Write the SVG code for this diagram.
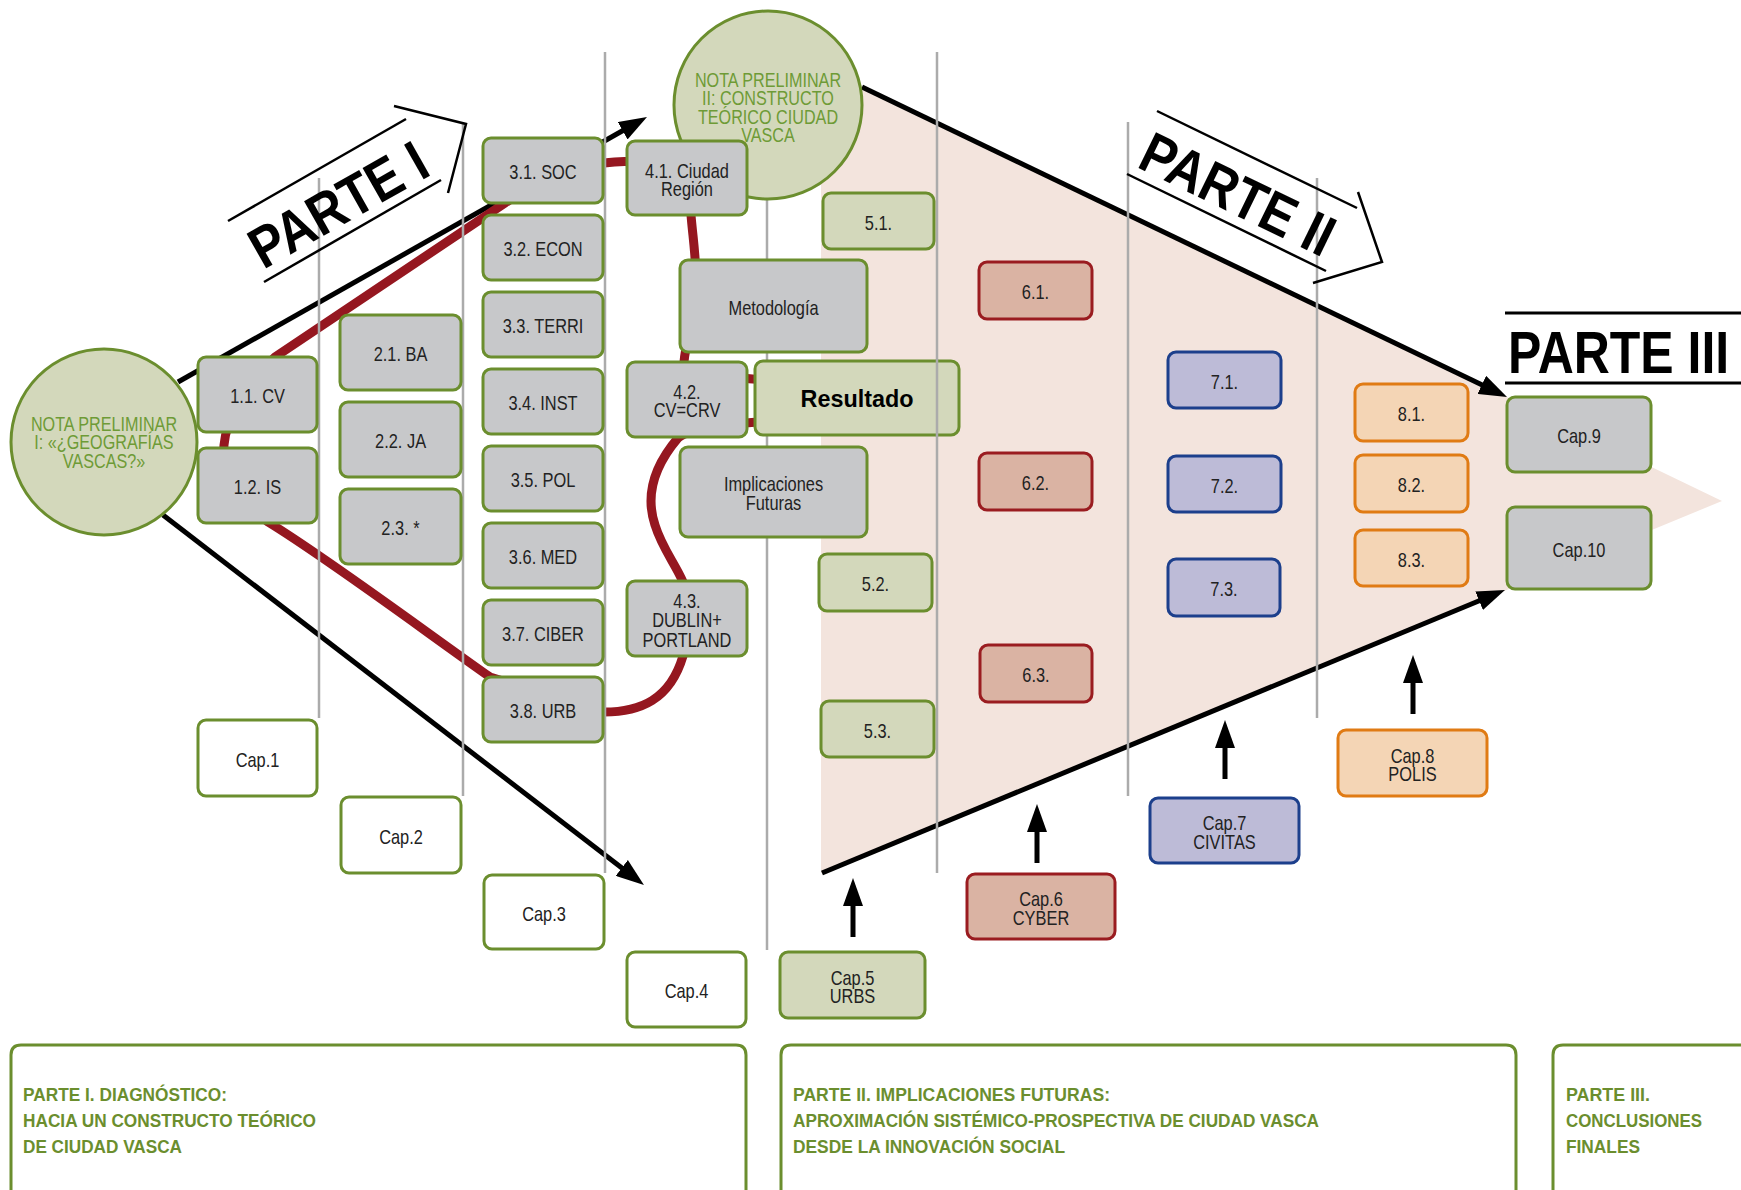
<svg xmlns="http://www.w3.org/2000/svg" width="1741" height="1190" viewBox="0 0 1741 1190">
<defs>
<marker id="ah" viewBox="0 0 28 20" markerWidth="28" markerHeight="20" refX="8" refY="10" orient="auto" markerUnits="userSpaceOnUse"><path d="M0,0 L28,10 L0,20 Z" fill="#000"/></marker>
<style>
.node rect{stroke-width:3}
.gy rect{fill:#C7C8CA;stroke:#6B8E2E}
.gn rect{fill:#D3D8BB;stroke:#6B8E2E}
.wh rect{fill:#FFFFFF;stroke:#6B8E2E}
.rd rect{fill:#DAB3A3;stroke:#9A1C20}
.bl rect{fill:#BDBBD7;stroke:#1C3F8C}
.or rect{fill:#F4D5B5;stroke:#E07B14}
.node text{font-family:"Liberation Sans",Arial,sans-serif;font-size:20px;fill:#222;text-anchor:middle;transform-box:fill-box;transform-origin:center;transform:scaleX(0.82)}
.circ circle{fill:#D3D8BB;stroke:#6B8E2E;stroke-width:3}
.circ text{font-family:"Liberation Sans",Arial,sans-serif;font-size:19.5px;fill:#6E9B36;text-anchor:middle;transform-box:fill-box;transform-origin:center;transform:scaleX(0.83)}
.node text.res{font-weight:bold;font-size:24px;fill:#000;transform:none}
.vl{stroke:#ABABAB;stroke-width:2.5}
.bk{stroke:#000;stroke-width:5;fill:none}
.loop{stroke:#951720;stroke-width:9;fill:none;stroke-linecap:round}
.ttl{font-family:"Liberation Sans",Arial,sans-serif;font-weight:bold;font-size:58px;fill:#000;text-anchor:middle}
.deco{stroke:#000;stroke-width:2.5;fill:none}
.pan{fill:none;stroke:#6B8E2E;stroke-width:3}
.pt{font-family:"Liberation Sans",Arial,sans-serif;font-weight:bold;font-size:18px;fill:#6B8E2E}
</style>
</defs>
<rect width="1741" height="1190" fill="#FFFFFF"/>
<polygon id="funnel" points="821,66 1722,501 821,873" fill="#F3E4DD"/>

<g id="connectors">
<line class="bk" x1="178" y1="382" x2="629.6" y2="126.8" marker-end="url(#ah)"/>
<line class="bk" x1="163" y1="515" x2="628.1" y2="872.8" marker-end="url(#ah)"/>
<line class="bk" x1="862" y1="87" x2="1489" y2="388.3" marker-end="url(#ah)"/>
<line class="bk" x1="822" y1="873" x2="1486.5" y2="597.7" marker-end="url(#ah)"/>
<line class="bk" x1="853" y1="937" x2="853" y2="898" marker-end="url(#ah)"/>
<line class="bk" x1="1037" y1="863" x2="1037" y2="824" marker-end="url(#ah)"/>
<line class="bk" x1="1225" y1="779" x2="1225" y2="740" marker-end="url(#ah)"/>
<line class="bk" x1="1413" y1="714" x2="1413" y2="675" marker-end="url(#ah)"/>
<path class="loop" d="M604,163 C645,157 688,168 691,215 C693,240 697,262 696,292 C695,322 686,338 684,362 C690,374 730,378 770,380 C800,382 800,418 770,421 C730,424 690,428 678,438 C655,465 645,495 655,525 C662,548 676,565 683,582 L683,656 C670,700 640,712 604,712 L490,677 C430,635 330,560 268,522 C240,500 222,472 224,445 C226,420 245,385 275,357 L505,203 C540,180 570,165 604,163"/>
</g>

<g id="dividers">
<line class="vl" x1="319" y1="178" x2="319" y2="718"/>
<line class="vl" x1="463" y1="123" x2="463" y2="796"/>
<line class="vl" x1="605" y1="52" x2="605" y2="873"/>
<line class="vl" x1="767" y1="199" x2="767" y2="950"/>
<line class="vl" x1="937" y1="52" x2="937" y2="873"/>
<line class="vl" x1="1128" y1="122" x2="1128" y2="796"/>
<line class="vl" x1="1317" y1="178" x2="1317" y2="718"/>
</g>

<g id="np1" class="circ"><circle cx="104" cy="442" r="93"/><text x="104" y="431">NOTA PRELIMINAR</text><text x="104" y="449.5">I: «¿GEOGRAFÍAS</text><text x="104" y="468">VASCAS?»</text></g>
<g id="np2" class="circ"><circle cx="768" cy="105" r="94"/><text x="768" y="87">NOTA PRELIMINAR</text><text x="768" y="105.3">II: CONSTRUCTO</text><text x="768" y="123.6">TEÓRICO CIUDAD</text><text x="768" y="142">VASCA</text></g>

<g id="n11" class="node gy"><rect x="198" y="357" width="119" height="75" rx="8"/><text x="257.5" y="403.5">1.1. CV</text></g>
<g id="n12" class="node gy"><rect x="198" y="448" width="119" height="75" rx="8"/><text x="257.5" y="494.5">1.2. IS</text></g>
<g id="n21" class="node gy"><rect x="340" y="315" width="121" height="75" rx="8"/><text x="400.5" y="361.5">2.1. BA</text></g>
<g id="n22" class="node gy"><rect x="340" y="402" width="121" height="75" rx="8"/><text x="400.5" y="448.5">2.2. JA</text></g>
<g id="n23" class="node gy"><rect x="340" y="489" width="121" height="75" rx="8"/><text x="400.5" y="535.5">2.3. *</text></g>
<g id="n31" class="node gy"><rect x="483" y="138" width="120" height="65" rx="8"/><text x="543" y="179.5">3.1. SOC</text></g>
<g id="n32" class="node gy"><rect x="483" y="215" width="120" height="65" rx="8"/><text x="543" y="256.5">3.2. ECON</text></g>
<g id="n33" class="node gy"><rect x="483" y="292" width="120" height="65" rx="8"/><text x="543" y="333.5">3.3. TERRI</text></g>
<g id="n34" class="node gy"><rect x="483" y="369" width="120" height="65" rx="8"/><text x="543" y="410.5">3.4. INST</text></g>
<g id="n35" class="node gy"><rect x="483" y="446" width="120" height="65" rx="8"/><text x="543" y="487.5">3.5. POL</text></g>
<g id="n36" class="node gy"><rect x="483" y="523" width="120" height="65" rx="8"/><text x="543" y="564.5">3.6. MED</text></g>
<g id="n37" class="node gy"><rect x="483" y="600" width="120" height="65" rx="8"/><text x="543" y="641.5">3.7. CIBER</text></g>
<g id="n38" class="node gy"><rect x="483" y="677" width="120" height="65" rx="8"/><text x="543" y="718.5">3.8. URB</text></g>
<g id="n41" class="node gy"><rect x="627" y="141" width="120" height="74" rx="8"/><text x="687" y="178">4.1. Ciudad</text><text x="687" y="196.5">Región</text></g>
<g id="nmet" class="node gy"><rect x="680" y="260" width="187" height="92" rx="8"/><text x="773.5" y="315">Metodología</text></g>
<g id="n42" class="node gy"><rect x="627" y="362" width="120" height="75" rx="8"/><text x="687" y="399">4.2.</text><text x="687" y="417.5">CV=CRV</text></g>
<g id="nres" class="node gn"><rect x="755" y="361" width="204" height="74" rx="8"/><text class="res" x="857" y="407" textLength="113" lengthAdjust="spacingAndGlyphs">Resultado</text></g>
<g id="nimp" class="node gy"><rect x="680" y="447" width="187" height="90" rx="8"/><text x="773.5" y="491.5">Implicaciones</text><text x="773.5" y="510">Futuras</text></g>
<g id="n43" class="node gy"><rect x="627" y="581" width="120" height="75" rx="8"/><text x="687" y="608">4.3.</text><text x="687" y="627.5">DUBLIN+</text><text x="687" y="647">PORTLAND</text></g>
<line class="vl" x1="937" y1="359" x2="937" y2="437"/>

<g id="n51" class="node gn"><rect x="823" y="193" width="111" height="56" rx="8"/><text x="878.5" y="230">5.1.</text></g>
<g id="n52" class="node gn"><rect x="819" y="554" width="113" height="57" rx="8"/><text x="875.5" y="591.5">5.2.</text></g>
<g id="n53" class="node gn"><rect x="821" y="701" width="113" height="56" rx="8"/><text x="877.5" y="738">5.3.</text></g>
<g id="n61" class="node rd"><rect x="979" y="262" width="113" height="57" rx="8"/><text x="1035.5" y="299.5">6.1.</text></g>
<g id="n62" class="node rd"><rect x="979" y="453" width="113" height="57" rx="8"/><text x="1035.5" y="490.5">6.2.</text></g>
<g id="n63" class="node rd"><rect x="980" y="645" width="112" height="57" rx="8"/><text x="1036" y="682.5">6.3.</text></g>
<g id="n71" class="node bl"><rect x="1168" y="352" width="113" height="56" rx="8"/><text x="1224.5" y="389">7.1.</text></g>
<g id="n72" class="node bl"><rect x="1168" y="456" width="113" height="56" rx="8"/><text x="1224.5" y="493">7.2.</text></g>
<g id="n73" class="node bl"><rect x="1168" y="559" width="112" height="57" rx="8"/><text x="1224" y="596.5">7.3.</text></g>
<g id="n81" class="node or"><rect x="1355" y="384" width="113" height="57" rx="8"/><text x="1411.5" y="421.5">8.1.</text></g>
<g id="n82" class="node or"><rect x="1355" y="455" width="113" height="57" rx="8"/><text x="1411.5" y="492.5">8.2.</text></g>
<g id="n83" class="node or"><rect x="1355" y="530" width="113" height="56" rx="8"/><text x="1411.5" y="567">8.3.</text></g>
<g id="cap9" class="node gy"><rect x="1507" y="397" width="144" height="75" rx="8"/><text x="1579" y="443.5">Cap.9</text></g>
<g id="cap10" class="node gy"><rect x="1507" y="507" width="144" height="82" rx="8"/><text x="1579" y="557">Cap.10</text></g>
<g id="cap1" class="node wh"><rect x="198" y="720" width="119" height="76" rx="8"/><text x="257.5" y="767">Cap.1</text></g>
<g id="cap2" class="node wh"><rect x="341" y="797" width="120" height="76" rx="8"/><text x="401" y="844">Cap.2</text></g>
<g id="cap3" class="node wh"><rect x="484" y="875" width="120" height="74" rx="8"/><text x="544" y="921">Cap.3</text></g>
<g id="cap4" class="node wh"><rect x="627" y="952" width="119" height="75" rx="8"/><text x="686.5" y="998.5">Cap.4</text></g>
<g id="cap5" class="node gn"><rect x="780" y="952" width="145" height="66" rx="8"/><text x="852.5" y="985">Cap.5</text><text x="852.5" y="1003.5">URBS</text></g>
<g id="cap6" class="node rd"><rect x="967" y="874" width="148" height="65" rx="8"/><text x="1041" y="906.5">Cap.6</text><text x="1041" y="925">CYBER</text></g>
<g id="cap7" class="node bl"><rect x="1150" y="798" width="149" height="65" rx="8"/><text x="1224.5" y="830.5">Cap.7</text><text x="1224.5" y="849">CIVITAS</text></g>
<g id="cap8" class="node or"><rect x="1338" y="730" width="149" height="66" rx="8"/><text x="1412.5" y="763">Cap.8</text><text x="1412.5" y="781.5">POLIS</text></g>

<g id="parte1">
<line class="deco" x1="228" y1="221" x2="406" y2="119"/>
<line class="deco" x1="264" y1="282" x2="441" y2="180"/>
<polyline class="deco" points="394,106 466,124 448,193"/>
<text class="ttl" transform="translate(348,222) rotate(-29.5)" textLength="195" lengthAdjust="spacingAndGlyphs">PARTE I</text>
</g>
<g id="parte2">
<line class="deco" x1="1157" y1="111" x2="1357" y2="208"/>
<line class="deco" x1="1127" y1="174" x2="1326" y2="271"/>
<polyline class="deco" points="1358,192 1382,262 1313,283"/>
<text class="ttl" transform="translate(1229,212) rotate(26)" textLength="208" lengthAdjust="spacingAndGlyphs">PARTE II</text>
</g>
<g id="parte3">
<line x1="1505" y1="313" x2="1741" y2="313" stroke="#000" stroke-width="3"/>
<line x1="1505" y1="383" x2="1741" y2="383" stroke="#000" stroke-width="3"/>
<text x="0" y="0" transform="translate(1508,373) scale(1,1.18)" style="font-family:'Liberation Sans',Arial,sans-serif;font-weight:bold;font-size:50px;fill:#000">PARTE III</text>
</g>

<g id="panel1">
<path class="pan" d="M11,1200 V1055 Q11,1045 21,1045 H736 Q746,1045 746,1055 V1200"/>
<text class="pt" x="23" y="1101" textLength="204" lengthAdjust="spacingAndGlyphs">PARTE I. DIAGNÓSTICO:</text>
<text class="pt" x="23" y="1127" textLength="293" lengthAdjust="spacingAndGlyphs">HACIA UN CONSTRUCTO TEÓRICO</text>
<text class="pt" x="23" y="1153" textLength="159" lengthAdjust="spacingAndGlyphs">DE CIUDAD VASCA</text>
</g>
<g id="panel2">
<path class="pan" d="M781,1200 V1055 Q781,1045 791,1045 H1506 Q1516,1045 1516,1055 V1200"/>
<text class="pt" x="793" y="1101" textLength="317" lengthAdjust="spacingAndGlyphs">PARTE II. IMPLICACIONES FUTURAS:</text>
<text class="pt" x="793" y="1127" textLength="526" lengthAdjust="spacingAndGlyphs">APROXIMACIÓN SISTÉMICO-PROSPECTIVA DE CIUDAD VASCA</text>
<text class="pt" x="793" y="1153" textLength="272" lengthAdjust="spacingAndGlyphs">DESDE LA INNOVACIÓN SOCIAL</text>
</g>
<g id="panel3">
<path class="pan" d="M1553,1200 V1055 Q1553,1045 1563,1045 H1760"/>
<text class="pt" x="1566" y="1101" textLength="84" lengthAdjust="spacingAndGlyphs">PARTE III.</text>
<text class="pt" x="1566" y="1127" textLength="136" lengthAdjust="spacingAndGlyphs">CONCLUSIONES</text>
<text class="pt" x="1566" y="1153" textLength="74" lengthAdjust="spacingAndGlyphs">FINALES</text>
</g>
</svg>
